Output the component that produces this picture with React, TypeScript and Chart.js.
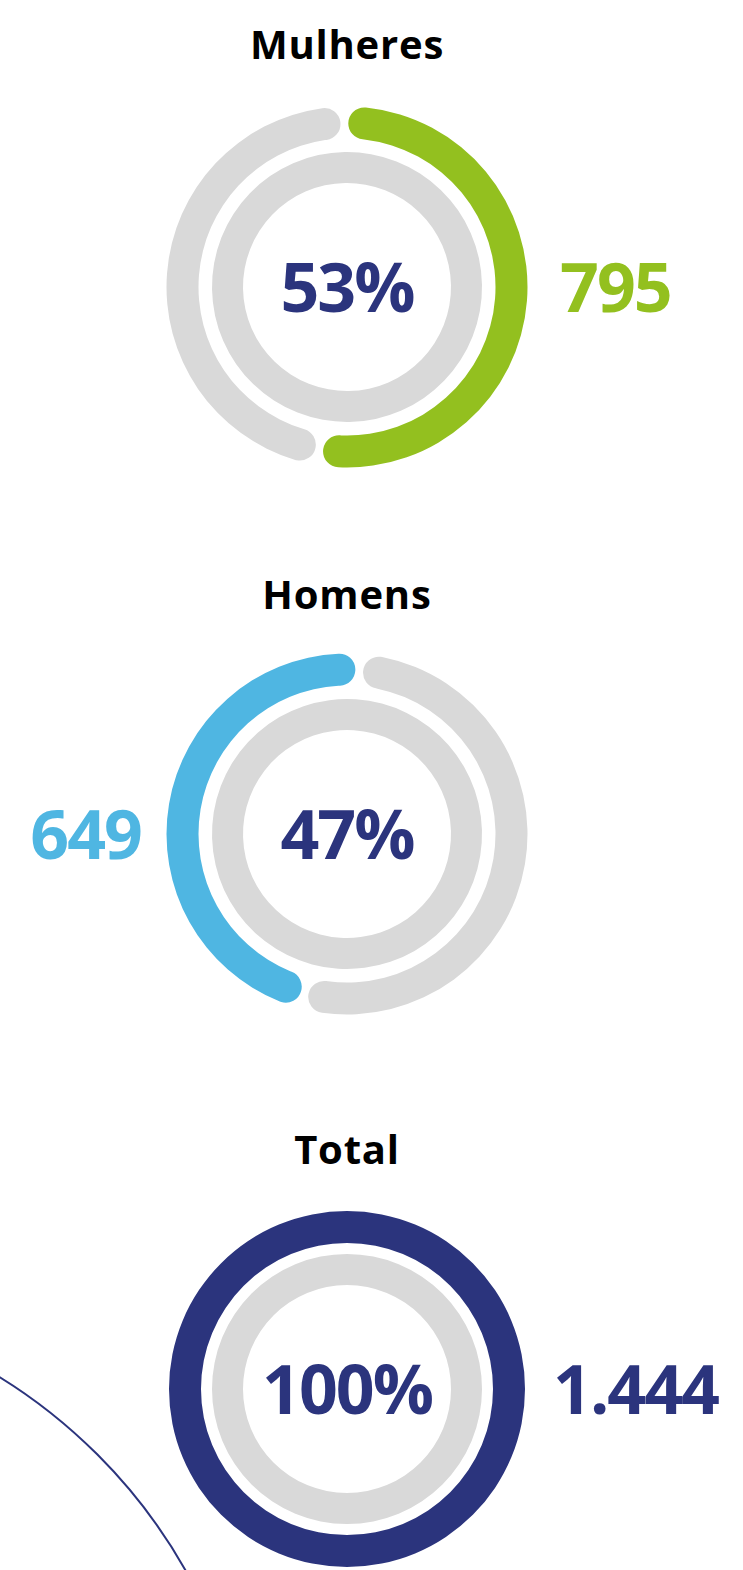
import React, { useEffect, useRef } from 'react';
import { Chart, registerables } from 'chart.js';

Chart.register(...registerables);

// ---- data ----
const titles = ['Mulheres', 'Homens', 'Total'];
const percents = [53, 47, 100];
const countLabels = ['795', '649', '1.444'];
const accentColors = ['#93C01F', '#4FB6E2', '#2B347D'];
const rotations = [-1, -165, 0];

const GREY = '#D9D9D9';
const NAVY = '#2B347D';
const FONT = '"Open Sans", "Noto Sans", sans-serif';

type DonutProps = { pct: number; color: string; rotation: number; rounded: boolean };

function Donut({ pct, color, rotation, rounded }: DonutProps) {
  const ref = useRef<HTMLCanvasElement | null>(null);
  useEffect(() => {
    if (!ref.current) return;
    const chart = new Chart(ref.current, {
      type: 'doughnut',
      data: {
        labels: ['valor', 'resto'],
        datasets: [
          {
            data: [pct, 100 - pct],
            backgroundColor: [color, GREY],
            borderWidth: 0,
            borderRadius: rounded ? 16 : 0,
            spacing: rounded ? 5 : 0,
            weight: 32,
          } as any,
          {
            data: [1],
            backgroundColor: ['rgba(0,0,0,0)'],
            borderWidth: 0,
            weight: 11,
          } as any,
          {
            data: [1],
            backgroundColor: [GREY],
            borderWidth: 0,
            weight: 31,
          } as any,
        ],
      },
      options: {
        responsive: false,
        animation: false,
        events: [],
        radius: 178,
        cutout: '58.43%',
        rotation,
        layout: { padding: 0 },
        plugins: { legend: { display: false }, tooltip: { enabled: false } },
      } as any,
    });
    return () => chart.destroy();
  }, [pct, color, rotation, rounded]);
  return <canvas ref={ref} width={370} height={370} style={{ display: 'block' }} />;
}

const centers = [287, 834, 1389];
const titleTops = [24, 574, 1129];

export default function App() {
  return (
    <div
      style={{
        position: 'absolute',
        left: 0,
        top: 0,
        width: 743,
        height: 1570,
        overflow: 'hidden',
        background: '#fff',
        fontFamily: FONT,
      }}
    >
      <div
        style={{
          position: 'absolute',
          left: -822,
          top: 1296,
          width: 1078,
          height: 1078,
          borderRadius: '50%',
          border: `2px solid ${NAVY}`,
          boxSizing: 'border-box',
        }}
      />
      {titles.map((t, i) => {
        const cy = centers[i];
        const F = 68;
        const numTop = cy + 25 - 0.888 * F;
        return (
          <React.Fragment key={t}>
            <div
              style={{
                position: 'absolute',
                left: 147,
                width: 400,
                top: titleTops[i],
                fontSize: 40,
                lineHeight: '40px',
                fontWeight: 700,
                color: '#000',
                textAlign: 'center',
                letterSpacing: 0.8,
              }}
            >
              {t}
            </div>
            <div style={{ position: 'absolute', left: 162, top: cy - 185, width: 370, height: 370 }}>
              <Donut
                pct={percents[i]}
                color={accentColors[i]}
                rotation={rotations[i]}
                rounded={percents[i] < 100}
              />
            </div>
            <div
              style={{
                position: 'absolute',
                left: 197,
                width: 300,
                top: numTop,
                fontSize: F,
                lineHeight: `${F}px`,
                fontWeight: 700,
                color: NAVY,
                textAlign: 'center',
                letterSpacing: -2,
              }}
            >
              {percents[i]}%
            </div>
            <div
              style={{
                position: 'absolute',
                ...(i === 1 ? { left: 0, width: 141, textAlign: 'right' } : { left: i === 0 ? 560 : 553, width: 190, textAlign: 'left' }),
                top: numTop,
                fontSize: F,
                lineHeight: `${F}px`,
                fontWeight: 700,
                color: accentColors[i],
                letterSpacing: -2,
              }}
            >
              {countLabels[i]}
            </div>
          </React.Fragment>
        );
      })}
    </div>
  );
}
